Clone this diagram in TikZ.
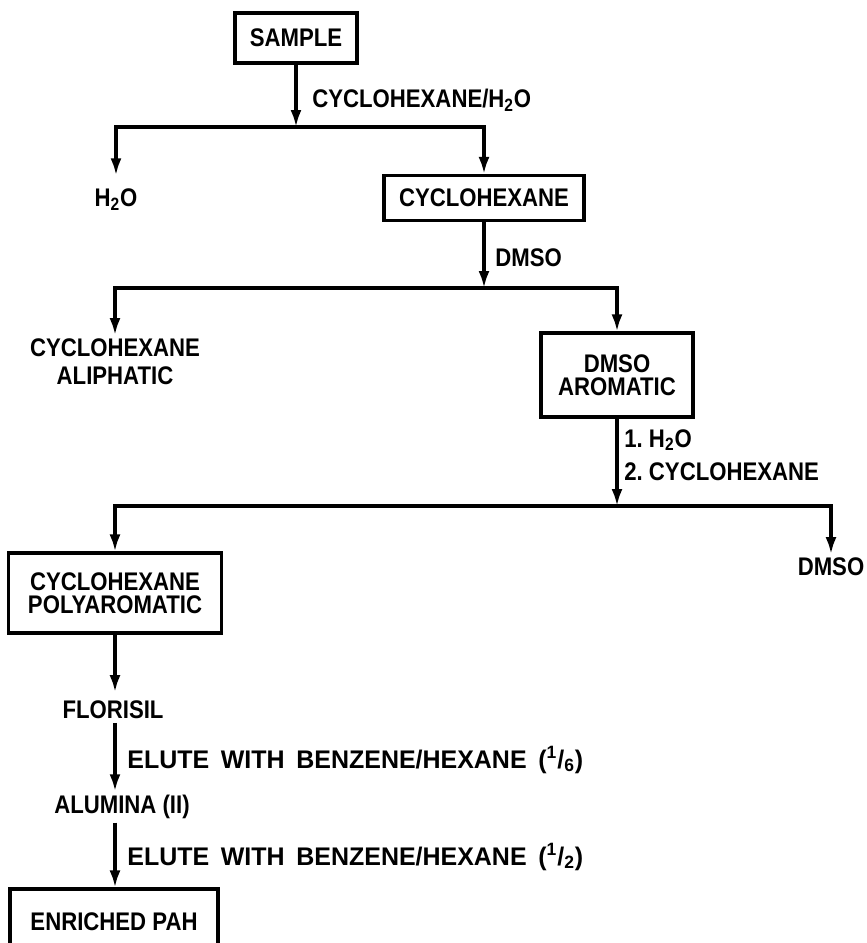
\documentclass[tikz,border=0pt]{standalone}
\usepackage{fontspec}
\setmainfont{Liberation Sans}[FakeStretch=0.87]
\newfontfamily\widefont{Liberation Sans}[FakeStretch=0.98]
\newcommand\elutefont{\widefont\spaceskip=0.46em\relax}
\usetikzlibrary{arrows.meta}

\tikzset{
    stepbox/.style={draw, line width=1.8pt, align=center, inner sep=0pt,
        font=\fontsize{14.5}{13}\selectfont\bfseries},
    item/.style={align=center, inner sep=2pt},
    cond/.style={anchor=west, align=left, inner sep=0pt},
    flow/.style={line width=1.8pt, -{Latex[length=0.34cm, width=0.22cm]}},
}

\begin{document}
\begin{tikzpicture}[x=0.02cm, y=-0.02cm, font=\fontsize{14.5}{16}\selectfont\bfseries]
    \useasboundingbox (0,0) rectangle (866,943);

    % 1. Boxed stages
    \node[stepbox, minimum width=2.44cm, minimum height=1cm]    (sample) at (296,38)  {SAMPLE};
    \node[stepbox, minimum width=4cm,    minimum height=0.9cm]  (cyc)    at (484,198) {CYCLOHEXANE};
    \node[stepbox, minimum width=3.04cm, minimum height=1.68cm] (arom)   at (617,375) {DMSO\\AROMATIC};
    \node[stepbox, minimum width=4.26cm, minimum height=1.6cm]  (poly)   at (115,593) {CYCLOHEXANE\\POLYAROMATIC};
    \node[stepbox, minimum width=4.16cm, minimum height=1.32cm] (pah)    at (114,922) {ENRICHED PAH};

    % 2. Unboxed fractions
    \node[item] (water)    at (116,200) {H\textsubscript{2}O};
    \node[item] (aliph)    at (115,362) {CYCLOHEXANE\\ALIPHATIC};
    \node[item] (dmsoout)  at (831,567) {DMSO};
    \node[item] (florisil) at (113,710) {FLORISIL};
    \node[item] (alumina)  at (122,807) {ALUMINA (II)};

    % 3. Split points
    \coordinate (j1) at (296,127);
    \coordinate (j2) at (484,288);
    \coordinate (j3) at (617,506);

    % 4. Extraction steps
    \draw[flow] (sample) -- (j1);
    \draw[flow, shorten >=0.2cm] (j1) -| (water.north);
    \draw[flow] (j1) -| (cyc.north);

    \draw[flow] (cyc) -- (j2);
    \draw[flow] (j2) -| (aliph.north);
    \draw[flow] (j2) -| (arom.north);

    \draw[flow] (arom) -- (j3);
    \draw[flow] (j3) -| (poly.north);
    \draw[flow] (j3) -| (dmsoout.north);

    % 5. Column clean-up, kept on the line of the polyaromatic box
    \draw[flow, shorten >=0.1cm] (poly) -- (poly |- florisil.north);
    \draw[flow] (florisil.south -| poly) -- (alumina.north -| poly);
    \draw[flow] (alumina.south -| poly) -- (pah.north -| poly);

    % 6. Solvent labels
    \node[cond] (solv1) at (312,100) {CYCLOHEXANE/H\textsubscript{2}O};
    \node[cond] (solv2) at (495,258) {DMSO};
    \node[cond] (solv3) at (624,455) {1.\ H\textsubscript{2}O\\[3pt]2.\ CYCLOHEXANE};
    \node[cond, font=\fontsize{14.5}{16}\selectfont\bfseries\elutefont]
        (elute1) at (127,760) {ELUTE WITH BENZENE/HEXANE (\textsuperscript{1}/\textsubscript{6})};
    \node[cond, font=\fontsize{14.5}{16}\selectfont\bfseries\elutefont]
        (elute2) at (127,857) {ELUTE WITH BENZENE/HEXANE (\textsuperscript{1}/\textsubscript{2})};
\end{tikzpicture}
\end{document}
